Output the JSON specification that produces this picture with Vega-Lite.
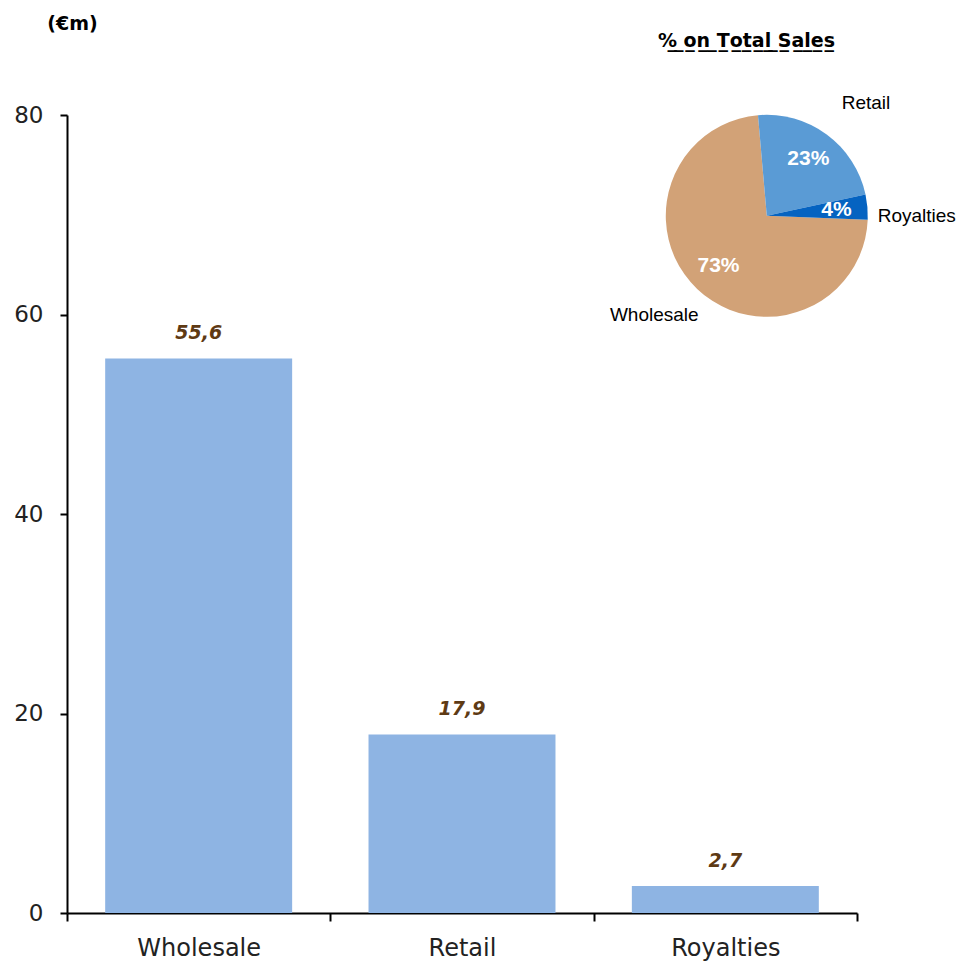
{
  "$schema": "https://vega.github.io/schema/vega-lite/v6.json",
  "width": 790,
  "height": 798,
  "autosize": {"type": "none"},
  "padding": {"left": 67, "top": 115, "right": 108, "bottom": 51},
  "background": "white",
  "config": {
    "view": {"stroke": null},
    "locale": {"number": {"decimal": ",", "thousands": ".", "grouping": [3], "currency": ["€", ""]}}
  },
  "title": {
    "text": "%̲ ̲o̲n̲ ̲T̲o̲t̲a̲l̲ ̲S̲a̲l̲e̲s̲",
    "anchor": "end",
    "frame": "group",
    "dx": -22,
    "offset": -37,
    "font": "DejaVu Sans",
    "fontSize": 19,
    "fontWeight": "bold",
    "color": "#000000"
  },
  "datasets": {
    "sales": [
      {"segment": "Wholesale", "revenue": 55.6},
      {"segment": "Retail", "revenue": 17.9},
      {"segment": "Royalties", "revenue": 2.7}
    ],
    "share": [
      {"segment": "Wholesale", "share": 0.73},
      {"segment": "Retail", "share": 0.23},
      {"segment": "Royalties", "share": 0.04}
    ]
  },
  "layer": [
    {
      "data": {"name": "sales"},
      "mark": {"type": "bar", "color": "#8EB4E3", "width": {"band": 0.71}},
      "encoding": {
        "x": {
          "field": "segment",
          "type": "nominal",
          "sort": ["Wholesale", "Retail", "Royalties"],
          "scale": {"paddingInner": 0, "paddingOuter": 0},
          "axis": {
            "title": null,
            "tickBand": "extent",
            "labelAngle": 0,
            "domainColor": "#000000",
            "domainWidth": 2,
            "tickColor": "#000000",
            "tickWidth": 2,
            "tickSize": 8,
            "labelFont": "DejaVu Sans",
            "labelFontSize": 24,
            "labelColor": "#222222",
            "labelPadding": 15
          }
        },
        "y": {
          "field": "revenue",
          "type": "quantitative",
          "scale": {"domain": [0, 80], "nice": false},
          "axis": {
            "values": [0, 20, 40, 60, 80],
            "grid": false,
            "domainColor": "#000000",
            "domainWidth": 2,
            "tickColor": "#000000",
            "tickWidth": 2,
            "tickSize": 7,
            "labelFont": "DejaVu Sans",
            "labelFontSize": 23,
            "labelColor": "#222222",
            "labelPadding": 17,
            "title": "(€m)",
            "titleAngle": 0,
            "titleX": 5,
            "titleY": -92,
            "titleAlign": "center",
            "titleBaseline": "middle",
            "titleFont": "DejaVu Sans",
            "titleFontSize": 19,
            "titleFontWeight": "bold",
            "titleColor": "#000000"
          }
        }
      }
    },
    {
      "data": {"name": "sales"},
      "mark": {
        "type": "text",
        "baseline": "bottom",
        "dy": -15,
        "font": "DejaVu Sans",
        "fontSize": 19,
        "fontStyle": "italic",
        "fontWeight": "bold",
        "color": "#5E3A14"
      },
      "encoding": {
        "x": {"field": "segment", "type": "nominal", "sort": ["Wholesale", "Retail", "Royalties"]},
        "y": {"field": "revenue", "type": "quantitative"},
        "text": {"field": "revenue", "type": "quantitative", "format": ".1f"}
      }
    },
    {
      "data": {"name": "share"},
      "mark": {
        "type": "arc",
        "outerRadius": 101,
        "x": {"expr": "width * 0.8858"},
        "y": {"expr": "height * 0.1263"}
      },
      "encoding": {
        "theta": {
          "field": "share",
          "type": "quantitative",
          "stack": true,
          "scale": {"range": [-0.0873, 6.1959]}
        },
        "order": {"field": "segment", "type": "nominal", "sort": "ascending"},
        "color": {
          "field": "segment",
          "type": "nominal",
          "legend": null,
          "scale": {
            "domain": ["Retail", "Royalties", "Wholesale"],
            "range": ["#5A9BD5", "#0563C1", "#D2A277"]
          }
        }
      }
    },
    {
      "data": {"name": "share"},
      "mark": {
        "type": "text",
        "radius": 70,
        "x": {"expr": "width * 0.8858"},
        "y": {"expr": "height * 0.1263"},
        "font": "Liberation Sans",
        "fontSize": 21,
        "fontWeight": "bold",
        "color": "#FFFFFF"
      },
      "encoding": {
        "theta": {"field": "share", "type": "quantitative", "stack": true},
        "order": {"field": "segment", "type": "nominal", "sort": "ascending"},
        "detail": {"field": "segment", "type": "nominal"},
        "text": {"field": "share", "type": "quantitative", "format": ".0%"}
      }
    },
    {
      "data": {"name": "share"},
      "mark": {
        "type": "text",
        "radius": 150,
        "thetaOffset": 0.087,
        "x": {"expr": "width * 0.8858"},
        "y": {"expr": "height * 0.1263"},
        "font": "Liberation Sans",
        "fontSize": 19,
        "color": "#000000"
      },
      "encoding": {
        "theta": {"field": "share", "type": "quantitative", "stack": true},
        "order": {"field": "segment", "type": "nominal", "sort": "ascending"},
        "detail": {"field": "segment", "type": "nominal"},
        "text": {"field": "segment", "type": "nominal"}
      }
    }
  ],
  "resolve": {"scale": {"theta": "shared"}}
}
